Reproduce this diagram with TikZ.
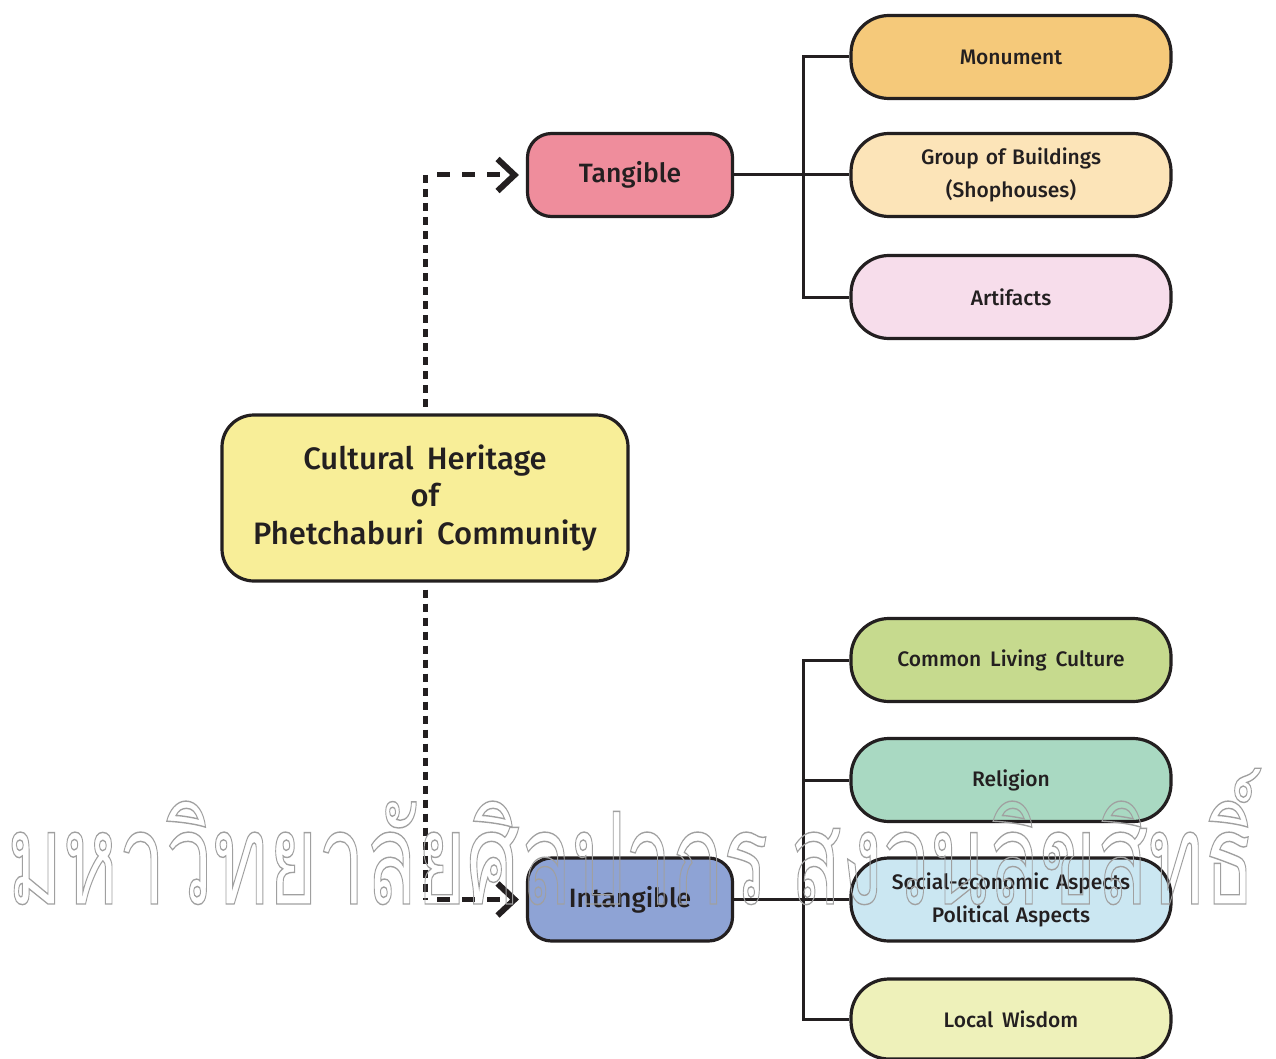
\documentclass[tikz,border=0pt]{standalone}
\usepackage{fontspec}
\setmainfont{Fira Sans}[UprightFont=* Medium, WordSpace=1.3]
\newfontfamily\thaifont[Script=Thai, Color=A0A0A0]{Loma}
\usetikzlibrary{arrows.meta}

\definecolor{ink}{HTML}{231F20}
\definecolor{wmgray}{HTML}{A0A0A0}
\definecolor{cCore}{HTML}{F8EE98}
\definecolor{cTang}{HTML}{EF8D9C}
\definecolor{cIntang}{HTML}{8EA3D5}
\definecolor{cMonu}{HTML}{F5C97A}
\definecolor{cGroup}{HTML}{FCE4B8}
\definecolor{cArt}{HTML}{F7DDEB}
\definecolor{cCommon}{HTML}{C6DA8E}
\definecolor{cRel}{HTML}{A9D9C2}
\definecolor{cSoc}{HTML}{CBE7F2}
\definecolor{cLocal}{HTML}{EEF1BA}

% a wider gap between words
\newcommand\wgap{\hspace{0.42em}}

% outlined text, stroked in grey
\newcommand\outlinetext[1]{\special{pdf:literal direct 0.63 g 0.63 G 1.4 w 1 Tr}#1\special{pdf:literal direct 0 Tr}}

\newsavebox\wmmeasure
\newsavebox\wmboxA
\newsavebox\wmboxB
\newlength\wmh

\begin{document}
% size the watermark font so that its consonants stand 72pt tall
\sbox\wmmeasure{\fontsize{100pt}{100pt}\selectfont\thaifont ม}%
\setlength\wmh{\ht\wmmeasure}%
\ifdim\wmh<5pt \setlength\wmh{50pt}\fi
\pgfmathsetmacro\wmsize{100*72/\the\wmh}%
\sbox\wmboxA{\fontsize{\wmsize pt}{\wmsize pt}\selectfont\thaifont มหาวิทยาลัยศิลปากร}%
\sbox\wmboxB{\fontsize{\wmsize pt}{\wmsize pt}\selectfont\thaifont สงวนลิขสิทธิ์}%
\pgfmathsetmacro\wmxs{761/\the\wd\wmboxA}%
\begin{tikzpicture}[x=1pt, y=-1pt,
  base/.style={draw=ink, line width=3.2pt, align=center, text=ink, inner sep=0pt},
  leaf/.style={base, minimum width=320pt, minimum height=83pt, rounded corners=38pt,
               font=\fontsize{21}{33}\selectfont},
  mid/.style={base, minimum width=205pt, minimum height=83pt, rounded corners=24pt,
              font=\fontsize{26.5}{30}\selectfont},
  hub/.style={base, minimum width=406pt, minimum height=166pt, rounded corners=32pt,
              font=\fontsize{31}{37.5}\selectfont},
  link/.style={draw=ink, line width=3pt},
  dotv/.style={draw=ink, line width=5pt, dash pattern=on 8pt off 6pt},
  dashh/.style={draw=ink, line width=5pt, dash pattern=on 13pt off 12pt,
                -{Straight Barb[length=17pt, width=32pt, line width=6pt]}},
  wm/.style={anchor=base west, inner sep=0pt, text=wmgray}
]
\useasboundingbox[fill=white] (0,0) rectangle (1276,1059);

% central node and the two categories
\node[hub, fill=cCore] (core) at (425,498) {Cultural\wgap Heritage\\of\\Phetchaburi\wgap Community};
\node[mid, fill=cTang] (tang) at (630,175) {Tangible};
\node[mid, fill=cIntang] (intang) at (630,899.5) {Intangible};

% tangible items
\node[leaf, fill=cMonu] (monu) at (1011,57) {Monument};
\node[leaf, fill=cGroup] (group) at (1011,175) {Group of Buildings\\(Shophouses)};
\node[leaf, fill=cArt] (artif) at (1011,297) {Artifacts};

% intangible items
\node[leaf, fill=cCommon] (common) at (1011,660) {Common\wgap Living\wgap Culture};
\node[leaf, fill=cRel] (relig) at (1011,780) {Religion};
\node[leaf, fill=cSoc] (social) at (1011,899.5) {Social-economic Aspects\\Political Aspects};
\node[leaf, fill=cLocal, minimum height=80pt] (local) at (1011,1019) {Local\wgap Wisdom};

% tree connectors
\coordinate (bus) at (803,0);
\draw[link] (tang.east) -- (group.west);
\draw[link] (monu.west) -- (monu.west -| bus) -- (artif.west -| bus) -- (artif.west);
\draw[link] (intang.east) -- (social.west);
\draw[link] (common.west) -- (common.west -| bus) -- (local.west -| bus) -- (local.west);
\draw[link] (relig.west -| bus) -- (relig.west);

% dotted links from the central node
\coordinate (tk) at (core.north |- tang.west);
\coordinate (ik) at (core.south |- intang.west);
\draw[dotv] (tk) -- ([yshift=6pt]core.north);
\draw[dotv] ([yshift=-7pt]core.south) -- (ik);
\draw[dashh] ([xshift=12pt]tk) -- ([xshift=-7pt]tang.west);
\draw[dashh] ([xshift=12pt]ik) -- ([xshift=-7pt]intang.west);

% outlined watermark line
\node[wm] (wmA) at (7,904) {\scalebox{\wmxs}[1]{\outlinetext{\usebox\wmboxA}}};
\node[wm] (wmB) at (790,904) {\scalebox{\wmxs}[1]{\outlinetext{\usebox\wmboxB}}};
\end{tikzpicture}
\end{document}
